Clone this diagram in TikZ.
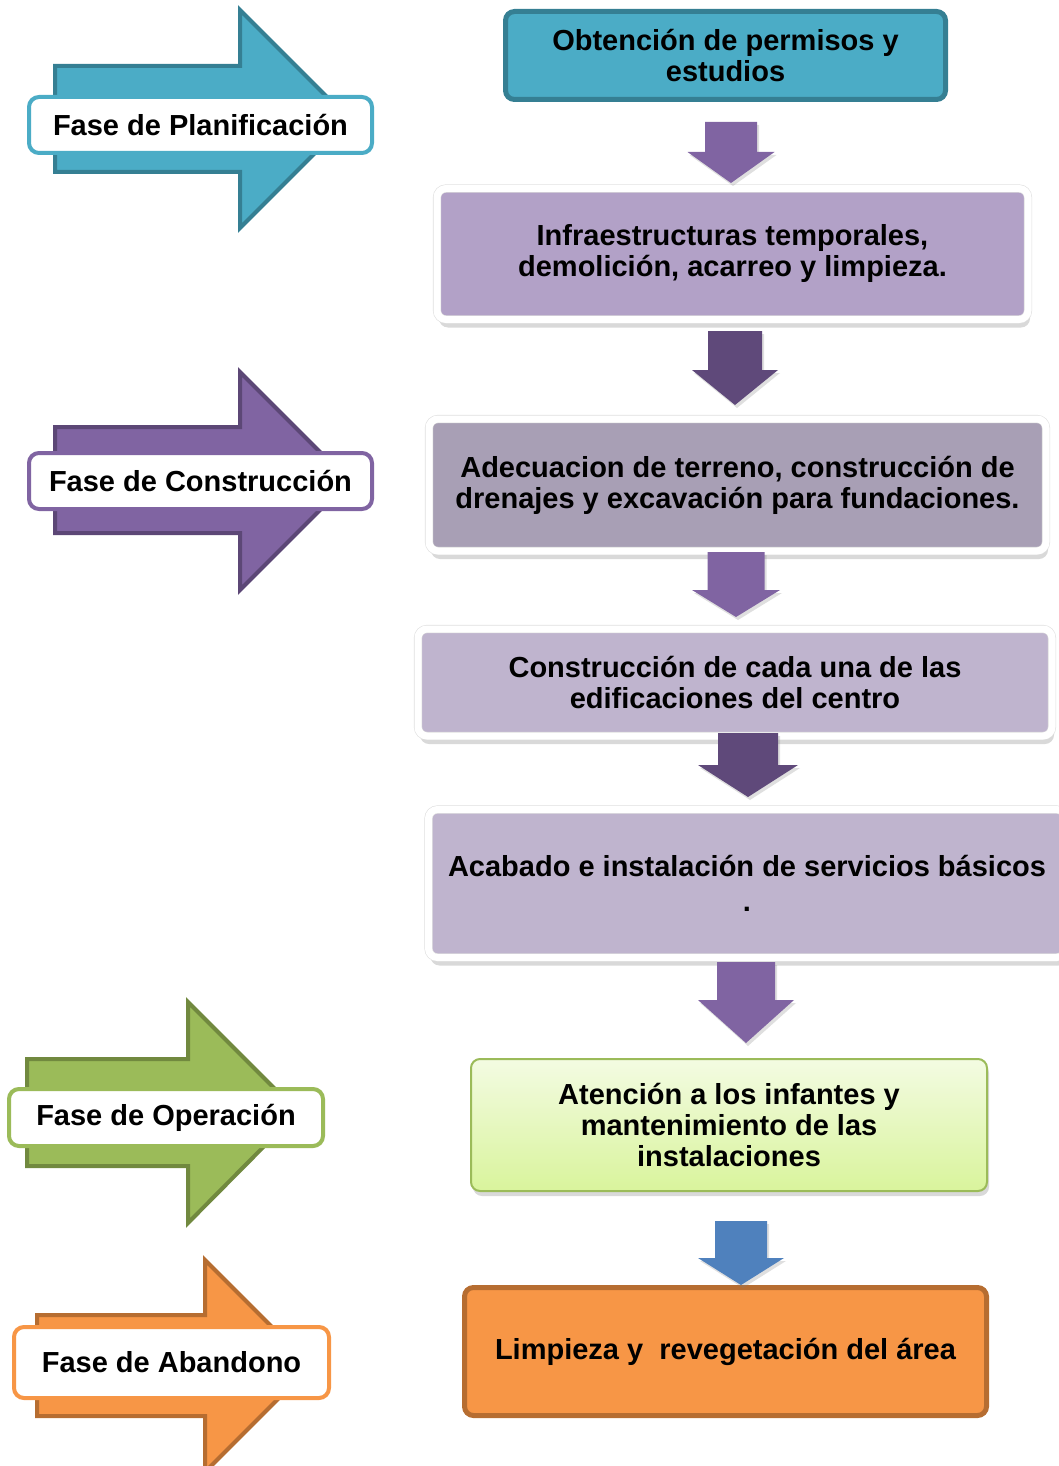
\documentclass[tikz,border=0pt]{standalone}
\usepackage{fontspec}
\setmainfont{Liberation Sans}
\usetikzlibrary{calc,shadows}

\definecolor{cianf}{HTML}{4BACC6}
\definecolor{cianb}{HTML}{357F93}
\definecolor{lilaf}{HTML}{8064A2}
\definecolor{lilab}{HTML}{5C4776}
\definecolor{lilao}{HTML}{5F497A}
\definecolor{lilac}{HTML}{B2A1C7}
\definecolor{grisl}{HTML}{A89FB5}
\definecolor{lilap}{HTML}{BFB4CE}
\definecolor{verdef}{HTML}{9BBB59}
\definecolor{verdeb}{HTML}{71893F}
\definecolor{verdes}{HTML}{F3FBE2}
\definecolor{verdei}{HTML}{D9F49C}
\definecolor{naranf}{HTML}{F79646}
\definecolor{naranb}{HTML}{B66D31}
\definecolor{azulf}{HTML}{4F81BD}

% flecha de bloque hacia abajo: arriba, punta, medio fuste, media cabeza, largo cabeza, estilo
\newcommand{\bajada}[6]{%
  \fill[#6] ($(#1)+(-#3,0)$) -- ($(#1)+(#3,0)$) -- ($(#2)+(#3,-#5)$) -- ($(#2)+(#4,-#5)$)
    -- (#2) -- ($(#2)+(-#4,-#5)$) -- ($(#2)+(-#3,-#5)$) -- cycle;}

\tikzset{
  texto/.style={align=center, font=\fontsize{29}{31}\selectfont\bfseries, inner sep=0pt},
  caja/.style={texto, rounded corners=9pt},
  marco/.style={caja, draw=gray!25, double=white, double distance=7pt, line width=0.6pt,
    drop shadow={shadow xshift=2pt, shadow yshift=-8pt, opacity=0.3}},
  fase/.style={texto, draw, line width=4pt, fill=white, rounded corners=10pt},
  flecha/.style={line width=4pt, line join=miter},
  sombra/.style={drop shadow={shadow xshift=2pt, shadow yshift=-3pt, opacity=0.25}},
}

\begin{document}
\begin{tikzpicture}[x=1pt, y=-1pt]
\useasboundingbox (0,0) rectangle (1059,1466);

% flechas de fase
\draw[flecha, fill=cianf, draw=cianb] (55,66) -- (240,66) -- (240,10) -- (349,119) -- (240,228) -- (240,172) -- (55,172) -- cycle;
\draw[flecha, fill=lilaf, draw=lilab] (55,427) -- (240,427) -- (240,372) -- (349,481) -- (240,590) -- (240,533) -- (55,533) -- cycle;
\draw[flecha, fill=verdef, draw=verdeb] (27,1059) -- (188,1059) -- (188,1002) -- (298,1112) -- (188,1223) -- (188,1166) -- (27,1166) -- cycle;
\draw[flecha, fill=naranf, draw=naranb] (37,1315) -- (205,1315) -- (205,1260) -- (311,1366) -- (205,1472) -- (205,1416) -- (37,1416) -- cycle;

\node[fase, draw=cianf, minimum width=343, minimum height=56] (planif) at (200.5,125) {Fase de Planificación};
\node[fase, draw=lilaf, minimum width=343, minimum height=56] (constr) at (200.5,481) {Fase de Construcción};
\node[fase, draw=verdef, minimum width=314, minimum height=57] (operac) at (166,1117.5) {Fase de Operación};
\node[fase, draw=naranf, minimum width=315, minimum height=71] (abandono) at (171.5,1362.5) {Fase de Abandono};

% cajas del proceso
\node[caja, fill=cianf, draw=cianb, line width=5pt, minimum width=440, minimum height=88] (permisos) at (725.5,55.5)
  {Obtención de permisos y\\estudios};
\node[marco, fill=lilac, minimum width=591, minimum height=131] (infra) at (732.5,254)
  {Infraestructuras temporales,\\demolición, acarreo y limpieza.};
\node[marco, fill=grisl, minimum width=617, minimum height=132] (adecuacion) at (737.5,485)
  {Adecuacion de terreno, construcción de\\drenajes y excavación para fundaciones.};
\node[marco, fill=lilap, minimum width=634, minimum height=107] (edific) at (735,682.5)
  {Construcción de cada una de las\\edificaciones del centro};
\node[marco, fill=lilap, minimum width=637, minimum height=148] (acabado) at (747,883.5)
  {Acabado e instalación de servicios básicos\\[4pt].};
\node[caja, top color=verdes, bottom color=verdei, draw=verdef, line width=2pt,
  drop shadow={shadow xshift=2pt, shadow yshift=-5pt, opacity=0.3}, minimum width=516, minimum height=132] (atencion) at (729,1125)
  {Atención a los infantes y\\mantenimiento de las\\instalaciones};
\node[caja, fill=naranf, draw=naranb, line width=5pt, minimum width=522, minimum height=128] (limpieza) at (725.5,1351.5)
  {Limpieza y \ revegetación del área};

% flechas entre cajas
\coordinate (a1) at (731,122);  \coordinate (b1) at (731,183);
\coordinate (a2) at (735,331);  \coordinate (b2) at (735,405);
\coordinate (a3) at (736,552);  \coordinate (b3) at (736,617);
\coordinate (a4) at (748,733);  \coordinate (b4) at (748,797);
\coordinate (a5) at (746,962);  \coordinate (b5) at (746,1043);
\coordinate (a6) at (741,1221); \coordinate (b6) at (741,1285);
\bajada{a1}{b1}{26}{43.5}{31}{lilaf, sombra}
\bajada{a2}{b2}{27}{43}{35}{lilao, sombra}
\bajada{a3}{b3}{28.5}{44}{27}{lilaf, sombra}
\bajada{a4}{b4}{30}{50}{32}{lilao, sombra}
\bajada{a5}{b5}{29}{48}{43}{lilaf, sombra}
\bajada{a6}{b6}{26}{43}{27}{azulf, sombra}
\end{tikzpicture}
\end{document}
